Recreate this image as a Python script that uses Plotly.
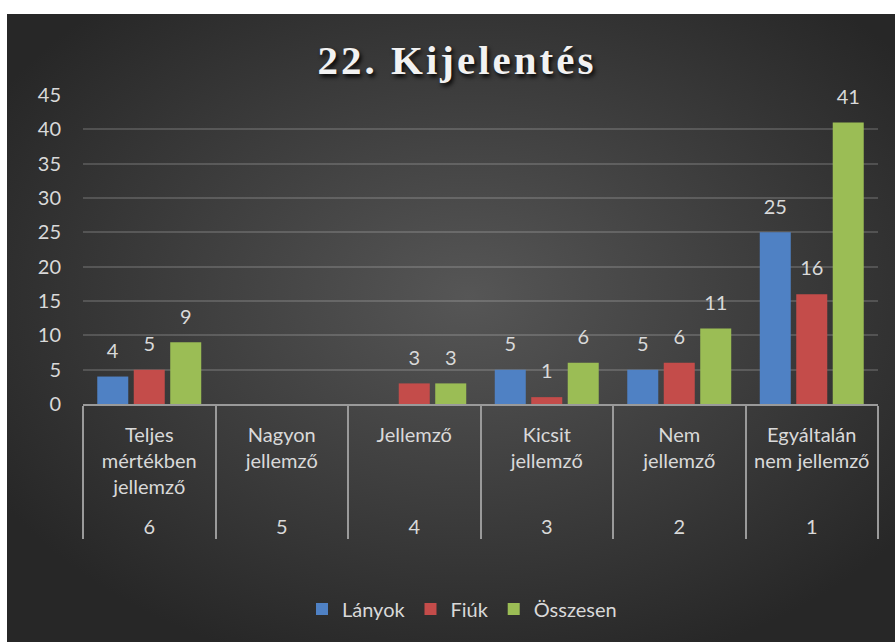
import base64
import plotly.graph_objects as go

# Data
categories = ["Teljes<br>mértékben<br>jellemző", "Nagyon<br>jellemző", "Jellemző",
              "Kicsit<br>jellemző", "Nem<br>jellemző", "Egyáltalán<br>nem jellemző"]
codes = ["6", "5", "4", "3", "2", "1"]
lanyok = [4, 0, 0, 5, 5, 25]
fiuk = [5, 0, 3, 1, 6, 16]
osszesen = [9, 0, 3, 6, 11, 41]
y_ticks = [0, 5, 10, 15, 20, 25, 30, 35, 40, 45]

series = [("Lányok", lanyok, "#4f81c4"),
          ("Fiúk", fiuk, "#c44c4a"),
          ("Összesen", osszesen, "#9bbd55")]

# Page geometry (pixels)
W, H = 895, 642
ML, MR, MT, MB = 83, 17, 95, 238
PW, PH = W - ML - MR, H - MT - MB

def px_x(p):
    return (p - ML) / PW

def px_y(p):
    return (H - MB - p) / PH

# Dark radial gradient backdrop
svg = """<svg xmlns='http://www.w3.org/2000/svg' width='888' height='628' viewBox='0 0 888 628' preserveAspectRatio='none'>
<defs><radialGradient id='g' cx='52%' cy='45%' r='62%'>
<stop offset='0%' stop-color='#565656'/><stop offset='100%' stop-color='#272727'/>
</radialGradient></defs><rect width='888' height='628' fill='url(#g)'/></svg>"""
bg_src = "data:image/svg+xml;base64," + base64.b64encode(svg.encode()).decode()

fig = go.Figure()
# extra blank line under the inner labels pushes the outer level down
x = [codes, [c + "<br> " for c in categories]]
for name, vals, col in series:
    fig.add_trace(go.Bar(x=x, y=vals, name=name, offsetgroup=name,
                         marker=dict(color=col, line=dict(width=0)),
                         hoverinfo="skip"))
# Data labels, lifted a little above each bar
for name, vals, col in series:
    fig.add_trace(go.Bar(x=x, y=[1.7] * len(vals), base=vals, offsetgroup=name,
                         marker=dict(color="rgba(0,0,0,0)", line=dict(width=0)),
                         text=[str(v) if v else "" for v in vals],
                         textposition="outside", cliponaxis=False,
                         textfont=dict(family="Lato", size=20, color="#d9d9d9"),
                         showlegend=False, hoverinfo="skip"))

fig.update_layout(
    width=W, height=H,
    margin=dict(l=ML, r=MR, t=MT, b=MB),
    paper_bgcolor="#ffffff",
    plot_bgcolor="rgba(0,0,0,0)",
    barmode="group", bargap=0.174, bargroupgap=0.15,
    images=[dict(source=bg_src, xref="paper", yref="paper",
                 x=px_x(7), y=px_y(14), sizex=px_x(W) - px_x(7),
                 sizey=px_y(14) - px_y(H), xanchor="left", yanchor="top",
                 sizing="stretch", layer="below")],
    title=dict(text="<span style='letter-spacing:3px'><b>22. Kijelentés</b></span>",
               x=457 / W, xanchor="center",
               y=1 - 60 / H, yanchor="middle",
               font=dict(family="Liberation Serif", size=41, color="#f2f2f2",
                         shadow="2px 3px 4px rgba(0,0,0,0.9)")),
    font=dict(family="Lato", size=20, color="#d9d9d9"),
    legend=dict(orientation="h", x=px_x(462), xanchor="center",
                y=px_y(609), yanchor="middle",
                font=dict(family="Lato", size=20, color="#d9d9d9"),
                bgcolor="rgba(0,0,0,0)", itemwidth=30),
    showlegend=True,
)
fig.update_yaxes(range=[0, 45], tickvals=y_ticks, showgrid=True,
                 gridcolor="rgba(255,255,255,0.16)", gridwidth=1.5,
                 zeroline=False, showline=False, ticks="",
                 ticklabelstandoff=21,
                 tickfont=dict(family="Lato", size=20, color="#d9d9d9"))
fig.update_xaxes(type="multicategory", showline=True, linecolor="#9a9a9a",
                 linewidth=2, showdividers=True, dividercolor="#9a9a9a",
                 dividerwidth=2, ticks="", ticklabelstandoff=12,
                 tickfont=dict(family="Lato", size=20, color="#d9d9d9"))

fig.write_html("out.html", config={"displayModeBar": False},
               post_script="document.body.style.margin='0';")
